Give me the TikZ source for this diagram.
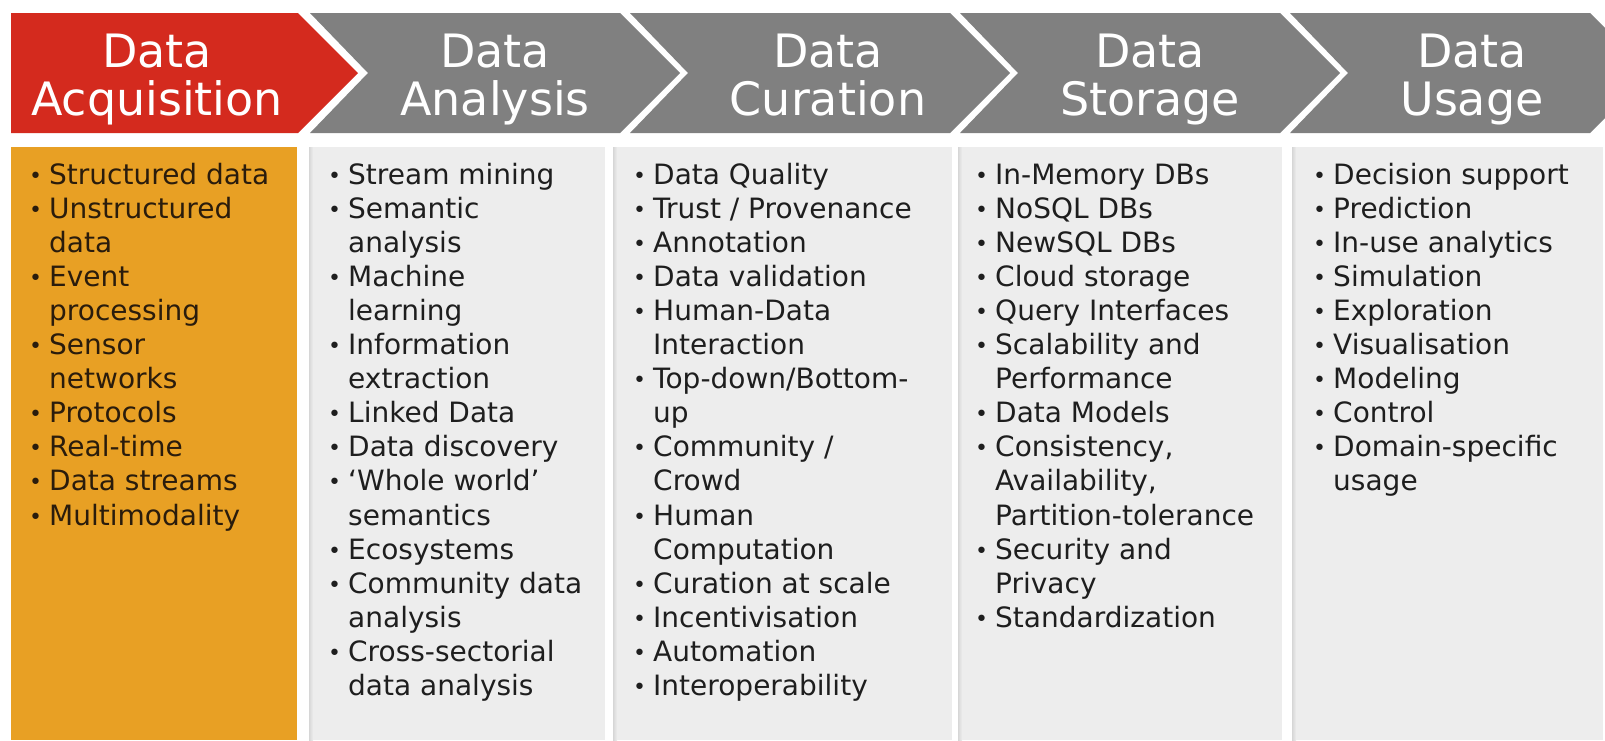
\documentclass[tikz,border=0pt]{standalone}
\usepackage{fontspec}
\setmainfont{DejaVu Sans}
\definecolor{accred}{HTML}{D42A1E}
\definecolor{chevgray}{HTML}{808080}
\definecolor{accorange}{HTML}{E8A024}
\definecolor{boxgray}{HTML}{EDEDED}
\definecolor{txtdark}{HTML}{1E1E1E}
\definecolor{txtbrown}{HTML}{2A1C0C}
\newcommand\bu{\strut\makebox[20pt][l]{\raisebox{1pt}{\fontsize{22}{22}\selectfont •}}}
\newcommand\ct{\strut\hspace*{20pt}}
\begin{document}
\begin{tikzpicture}[x=1pt,y=-1pt,
  hdr/.style={text=white,inner sep=0,anchor=base,font=\fontsize{46}{47}\selectfont},
  lst/.style={inner sep=0,anchor=north west,align=left,text=txtdark,font=\fontsize{28}{34.1}\selectfont},
  shadowstrip/.style={left color=black!16,right color=boxgray}]
\useasboundingbox (0,0) rectangle (1605,740);
\clip (0,0) rectangle (1605,740);
\fill[white] (0,0) rectangle (1605,740);
% chevrons
\fill[accred] (11,13) -- (298,13) -- (358,73) -- (298,133) -- (11,133) -- cycle;
\foreach \L/\R in {310/620,630/950,960/1280,1290/1590}{
  \fill[chevgray] (\L,13) -- (\R,13) -- (\R+60,73) -- (\R,133) -- (\L,133) -- (\L+58,73) -- cycle;
}
% header texts
\node[hdr] (h1a) at (157,67) {Data};
\node[hdr] (h1b) at (157,115) {Acquisition};
\node[hdr] (h2a) at (495,67) {Data};
\node[hdr] (h2b) at (495,115) {Analysis};
\node[hdr] (h3a) at (828,67) {Data};
\node[hdr] (h3b) at (828,115) {Curation};
\node[hdr] (h4a) at (1150,67) {Data};
\node[hdr] (h4b) at (1150,115) {Storage};
\node[hdr] (h5a) at (1472,67) {Data};
\node[hdr] (h5b) at (1472,115) {Usage};
% boxes
\fill[accorange] (11,147) rectangle (297,740);
\foreach \L/\R in {309/605,613/952,958/1282,1292/1603}{
  \fill[boxgray] (\L,147) rectangle (\R,740);
  \fill[shadowstrip] (\L,147) rectangle (\L+4,740);
}
% lists
\node[lst,text=txtbrown] (l1) at (29,160) {\bu Structured data\\ \bu Unstructured\\ \ct data\\ \bu Event\\ \ct processing\\ \bu Sensor\\ \ct networks\\ \bu Protocols\\ \bu Real-time\\ \bu Data streams\\ \bu Multimodality};
\node[lst] (l2) at (328,160) {\bu Stream mining\\ \bu Semantic\\ \ct analysis\\ \bu Machine\\ \ct learning\\ \bu Information\\ \ct extraction\\ \bu Linked Data\\ \bu Data discovery\\ \bu ‘Whole world’\\ \ct semantics\\ \bu Ecosystems\\ \bu Community data\\ \ct analysis\\ \bu Cross-sectorial\\ \ct data analysis};
\node[lst] (l3) at (633,160) {\bu Data Quality\\ \bu Trust / Provenance\\ \bu Annotation\\ \bu Data validation\\ \bu Human-Data\\ \ct Interaction\\ \bu Top-down/Bottom-\\ \ct up\\ \bu Community /\\ \ct Crowd\\ \bu Human\\ \ct Computation\\ \bu Curation at scale\\ \bu Incentivisation\\ \bu Automation\\ \bu Interoperability};
\node[lst] (l4) at (975,160) {\bu In-Memory DBs\\ \bu NoSQL DBs\\ \bu NewSQL DBs\\ \bu Cloud storage\\ \bu Query Interfaces\\ \bu Scalability and\\ \ct Performance\\ \bu Data Models\\ \bu Consistency,\\ \ct Availability,\\ \ct Partition-tolerance\\ \bu Security and\\ \ct Privacy\\ \bu Standardization};
\node[lst] (l5) at (1313,160) {\bu Decision support\\ \bu Prediction\\ \bu In-use analytics\\ \bu Simulation\\ \bu Exploration\\ \bu Visualisation\\ \bu Modeling\\ \bu Control\\ \bu Domain-specific\\ \ct usage};
\end{tikzpicture}
\end{document}
